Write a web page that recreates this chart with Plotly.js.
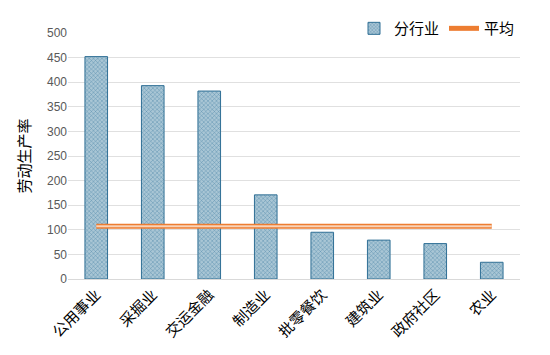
<!DOCTYPE html>
<html><head><meta charset="utf-8">
<script src="https://cdn.plot.ly/plotly-3.0.1.min.js"></script>
<style>body{margin:0;background:#fff}#c{width:550px;height:355px}</style>
</head><body><div id="c"></div>
<script>
const categories = ['公用事业','采掘业','交运金融','制造业','批零餐饮','建筑业','政府社区','农业'];
const productivity = [452, 393, 382, 171, 95, 79, 72, 34];
const averageValue = [107, 107, 107, 107, 107, 107, 107, 107];
const yTicks = [0,50,100,150,200,250,300,350,400,450,500];

const cjk = '"Noto Sans CJK SC", sans-serif';
const traces = [
  {type:'bar', name:'分行业', x:categories, y:productivity,
   marker:{color:'#95b7c9', line:{color:'#2f6f95', width:1},
     pattern:{shape:'x', size:3, solidity:0.25, fgcolor:'#4f86a8', bgcolor:'#a9c6d5'}}},
  {type:'scatter', mode:'lines', name:'平均', x:categories, y:averageValue,
   line:{color:'#ed7d31', width:5}},
  {type:'scatter', mode:'lines', name:'平均', showlegend:false, x:categories, y:averageValue,
   line:{color:'#f9d3b8', width:2}, hoverinfo:'skip'}
];
const layout = {
  width:550, height:355,
  margin:{l:68, r:30, t:31, b:76},
  paper_bgcolor:'#fff', plot_bgcolor:'#fff',
  bargap:0.6,
  showlegend:true,
  legend:{orientation:'h', x:1, xanchor:'right', y:1.085, yanchor:'top',
    bgcolor:'#fff', font:{family:cjk, size:15, color:'#000'}, itemwidth:30, traceorder:'normal'},
  xaxis:{automargin:false, tickangle:-45, tickfont:{family:cjk, size:15, color:'#000'},
    showline:true, linecolor:'#d9d9d9', linewidth:1, ticks:'', showgrid:false},
  yaxis:{automargin:false, range:[0,500], tickvals:yTicks, ticktext:yTicks.map(String),
    tickfont:{family:'"Liberation Sans", Arial, sans-serif', size:12, color:'#595959'},
    gridcolor:'#e0e0e0', gridwidth:1, zeroline:false, showline:false, ticks:'',
    title:{text:'劳动生产率', font:{family:cjk, size:15, color:'#000'}, standoff:12}}
};
Plotly.newPlot('c', traces, layout, {displayModeBar:false, staticPlot:true});
</script></body></html>
